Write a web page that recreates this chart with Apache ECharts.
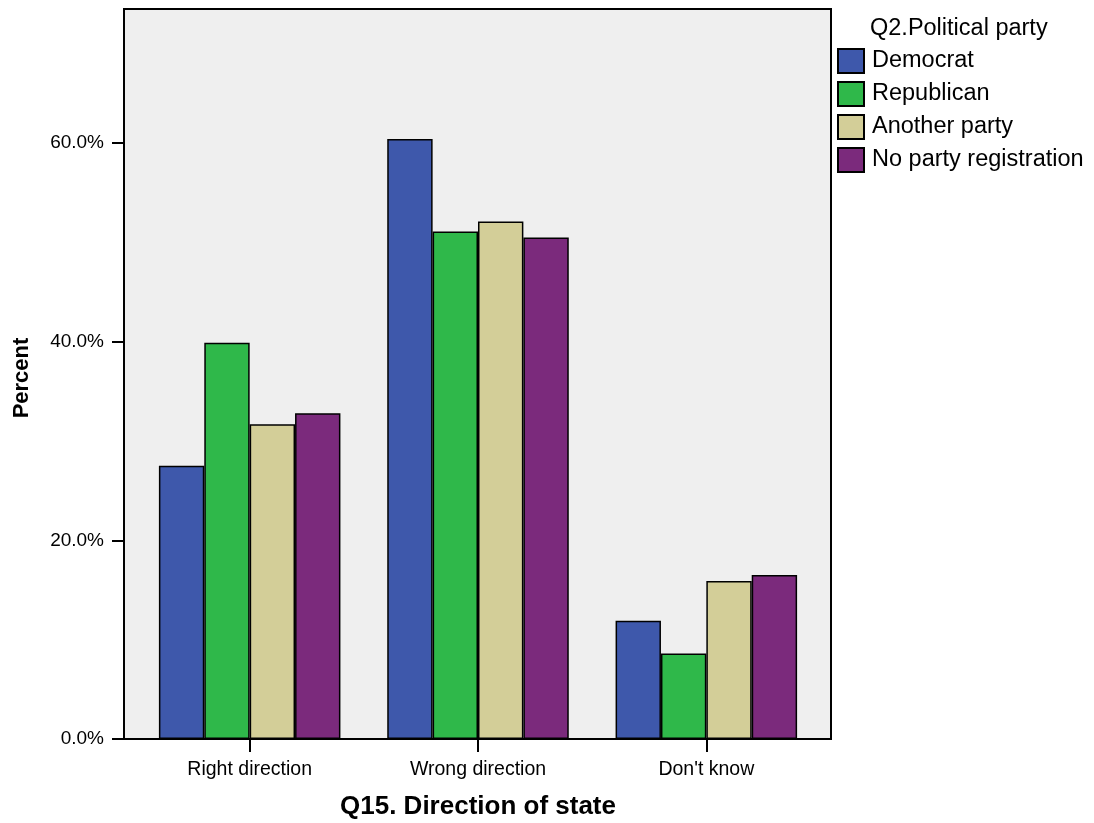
<!DOCTYPE html>
<html>
<head>
<meta charset="utf-8">
<script src="https://cdn.jsdelivr.net/npm/echarts@6/dist/echarts.min.js"></script>
<style>html,body{margin:0;padding:0;background:#fff;}#c{width:1094px;height:823px;}</style>
</head>
<body>
<div id="c"></div>
<script>
const categories = ['Right direction', 'Wrong direction', "Don't know"];
const democrat = [27.5, 60.4, 11.9];
const republican = [39.9, 51.1, 8.6];
const anotherParty = [31.7, 52.1, 15.9];
const noParty = [32.8, 50.5, 16.5];
const seriesNames = ['Democrat', 'Republican', 'Another party', 'No party registration'];
const yTicks = [0, 20, 40, 60];
const legendTitle = 'Q2.Political party';
const xTitle = 'Q15. Direction of state';
const yTitle = 'Percent';

const colors = ['#3e58ab', '#2fb84a', '#d3ce98', '#7b2a7c'];
const dataSets = [democrat, republican, anotherParty, noParty];
const FONT = '"Liberation Sans", Arial, sans-serif';

const chart = echarts.init(document.getElementById('c'));
chart.setOption({
  animation: false,
  backgroundColor: '#ffffff',
  textStyle: { fontFamily: FONT },
  grid: {
    left: 135.5, right: 273.5, top: 9, bottom: 84,
    show: false,
    containLabel: false,
    outerBoundsMode: 'none'
  },
  legend: {
    orient: 'vertical',
    left: 832, top: 43,
    itemWidth: 26, itemHeight: 24, itemGap: 7,
    icon: 'rect',
    textStyle: { fontFamily: FONT, fontSize: 23.5, lineHeight: 24, color: '#000', padding: [0, 0, 0, 3] },
    itemStyle: { borderColor: '#000', borderWidth: 2 },
    data: seriesNames
  },
  graphic: [{
    type: 'rect', z: -1, silent: true,
    shape: { x: 124, y: 9, width: 707, height: 730 },
    style: { fill: '#efefef', stroke: '#000', lineWidth: 2 }
  }, {
    type: 'text', left: 870, top: 17,
    style: { text: legendTitle, font: '23.5px ' + FONT, fill: '#000' }
  }, {
    type: 'text', x: 22, y: 378, rotation: Math.PI / 2,
    style: { text: yTitle, font: 'bold 22px ' + FONT, fill: '#000', align: 'center', verticalAlign: 'middle' }
  }],
  xAxis: {
    type: 'category',
    data: categories,
    name: xTitle,
    nameLocation: 'middle',
    nameGap: 55,
    nameTextStyle: { fontFamily: FONT, fontSize: 26, fontWeight: 'bold', color: '#000' },
    axisLine: { show: false },
    axisTick: { show: true, alignWithLabel: true, length: 13, lineStyle: { color: '#000', width: 2 } },
    axisLabel: { fontFamily: FONT, fontSize: 19.5, color: '#000', margin: 21 },
    splitLine: { show: false }
  },
  yAxis: {
    type: 'value',
    min: 0, max: 73.5, interval: 20,
    offset: 11.5,
    axisLine: { show: true, lineStyle: { color: '#000', width: 2 } },
    axisTick: { show: true, length: 12, customValues: yTicks, lineStyle: { color: '#000', width: 2 } },
    axisLabel: {
      fontFamily: FONT, fontSize: 19, color: '#000', margin: 20,
      customValues: yTicks,
      formatter: v => v.toFixed(1) + '%'
    },
    splitLine: { show: false }
  },
  series: seriesNames.map((n, i) => ({
    name: n,
    type: 'bar',
    data: dataSets[i],
    barGap: '0%',
    barCategoryGap: '20.5%',
    itemStyle: { color: colors[i], borderColor: '#000', borderWidth: 1.5 }
  }))
});
</script>
</body>
</html>
